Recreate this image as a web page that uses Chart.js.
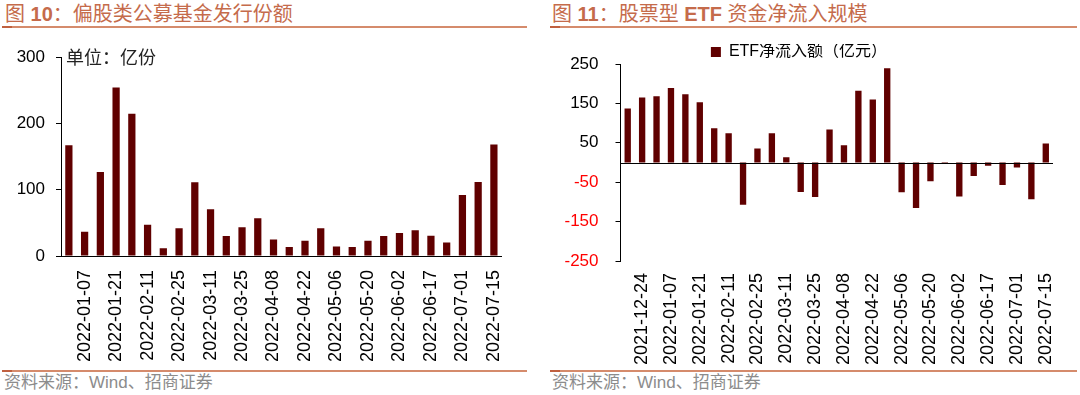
<!DOCTYPE html>
<html>
<head>
<meta charset="utf-8">
<script src="https://cdn.jsdelivr.net/npm/chart.js@4.4.1/dist/chart.umd.min.js"></script>
<style>
  html, body { margin:0; padding:0; background:#fff; }
  body { width:1080px; height:395px; position:relative; overflow:hidden;
         font-family:'Liberation Sans', Arial, 'Noto Sans CJK SC', sans-serif; }
  .title { position:absolute; top:3px; font-size:20px; line-height:22px; color:#C56B4B; white-space:nowrap;
           font-family:'Liberation Sans', Arial, 'Noto Sans CJK SC', sans-serif; }
  .title b { font-weight:bold; }
  .rule { position:absolute; height:2px; background:#D58B6C; }
  .rule i { position:absolute; left:0; top:0; width:10px; height:2px; background:#C0603F; }
  .src { position:absolute; top:373px; font-size:17px; line-height:20px; color:#8c8c8c; white-space:nowrap;
         font-family:'Liberation Sans', Arial, 'Noto Sans CJK SC', sans-serif; }
  .unit { position:absolute; left:66px; top:45px; font-size:18px; line-height:22px; color:#222;
          font-family:'Noto Sans CJK SC', sans-serif; white-space:nowrap; }
  .cv { position:absolute; top:30px; height:340px; }
</style>
</head>
<body>
<div class="title" style="left:5px;">图 <b>10</b>：偏股类公募基金发行份额</div>
<div class="title" style="left:552px;">图 <b>11</b>：股票型 <b>ETF</b> 资金净流入规模</div>
<div class="rule" style="left:2px;top:26px;width:525px;"><i></i></div>
<div class="rule" style="left:550px;top:26px;width:527px;"><i></i></div>
<div class="rule" style="left:2px;top:370px;width:525px;"><i></i></div>
<div class="rule" style="left:550px;top:370px;width:527px;"><i></i></div>
<div class="src" style="left:4px;">资料来源：Wind、招商证券</div>
<div class="src" style="left:552px;">资料来源：Wind、招商证券</div>

<div class="cv" style="left:0;width:530px;"><canvas id="c1"></canvas></div>
<div class="cv" style="left:545px;width:535px;"><canvas id="c2"></canvas></div>
<div class="unit">单位：亿份</div>

<script>
// ---- Data: left chart (偏股类公募基金发行份额, 亿份) ----
const fundLabels = ['2021-12-31','2022-01-07','2022-01-14','2022-01-21','2022-01-28','2022-02-11','2022-02-18',
  '2022-02-25','2022-03-04','2022-03-11','2022-03-18','2022-03-25','2022-04-01','2022-04-08','2022-04-15',
  '2022-04-22','2022-04-29','2022-05-06','2022-05-13','2022-05-20','2022-05-27','2022-06-02','2022-06-10',
  '2022-06-17','2022-06-24','2022-07-01','2022-07-08','2022-07-15'];
const fundValues = [167,36.5,126.5,254,214.5,47,11.5,42,111,70.5,30,43.5,57,25,13.5,23,42,14.5,13.5,23,30,34.5,39,30.5,20.5,92,111.5,168];
const fundTicks = [0,100,200,300];

// ---- Data: right chart (ETF净流入额, 亿元) ----
const etfLabels = ['2021-12-17','2021-12-24','2021-12-31','2022-01-07','2022-01-14','2022-01-21','2022-01-28',
  '2022-02-11','2022-02-18','2022-02-25','2022-03-04','2022-03-11','2022-03-18','2022-03-25','2022-04-01',
  '2022-04-08','2022-04-15','2022-04-22','2022-04-29','2022-05-06','2022-05-13','2022-05-20','2022-05-27',
  '2022-06-02','2022-06-10','2022-06-17','2022-06-24','2022-07-01','2022-07-08','2022-07-15'];
const etfValues = [137,165,168,189,173,153,87,74.5,-107,35.5,74.5,13.5,-75,-87.5,84,44,182,160,239,
  -75.5,-115.5,-47.5,-2.5,-86,-34,-8.5,-57,-12.7,-93.5,48.5];
const etfTicks = [-250,-150,-50,50,150,250];
const etfSeriesName = 'ETF净流入额（亿元）';

const BAR = '#600000';
const FONT = "'Liberation Sans', Arial, 'Noto Sans CJK SC', sans-serif";
Chart.defaults.font.family = FONT;
Chart.defaults.color = '#000';
Chart.defaults.animation = false;

function everyOther(v, i) { return i % 2 === 1 ? this.getLabelForValue(v) : ''; }

new Chart(document.getElementById('c1'), {
  type: 'bar',
  data: { labels: fundLabels, datasets: [{ data: fundValues, backgroundColor: BAR, borderWidth: 0,
          barPercentage: 0.46, categoryPercentage: 1 }] },
  options: {
    responsive: true, maintainAspectRatio: false,
    layout: { padding: { top: 27, right: 28, left: 0, bottom: 0 } },
    plugins: { legend: { display: false }, tooltip: { enabled: false } },
    scales: {
      x: {
        grid: { display: false, drawTicks: false },
        border: { display: true, color: '#000', width: 1 },
        ticks: { autoSkip: false, minRotation: 90, maxRotation: 90, padding: 14,
                 font: { size: 18 }, color: '#000', callback: everyOther },
        afterFit: s => { s.height = 114; }
      },
      y: {
        min: fundTicks[0], max: fundTicks[fundTicks.length - 1],
        afterBuildTicks: s => { s.ticks = fundTicks.map(v => ({ value: v })); },
        grid: { drawOnChartArea: false, drawTicks: true, tickLength: 5, color: '#000' },
        border: { display: true, color: '#000', width: 1 },
        ticks: { padding: 11, font: { size: 17 }, color: '#000' },
        afterFit: s => { s.width = 61; }
      }
    }
  }
});

const zeroLine = {
  id: 'zeroLine',
  afterDatasetsDraw(chart) {
    const { ctx, chartArea, scales: { y } } = chart;
    const py = Math.round(y.getPixelForValue(0)) + 0.5;
    ctx.save();
    ctx.strokeStyle = '#000'; ctx.lineWidth = 1;
    ctx.beginPath(); ctx.moveTo(chartArea.left, py); ctx.lineTo(chartArea.right, py); ctx.stroke();
    ctx.restore();
  }
};
// nudge the legend a few pixels down, closer to the plot (as in the reference)
const legendNudge = {
  id: 'legendNudge',
  afterLayout(chart) {
    if (chart.legend) { chart.legend.top += 6; chart.legend.bottom += 6; }
  }
};

new Chart(document.getElementById('c2'), {
  type: 'bar',
  data: { labels: etfLabels, datasets: [{ label: etfSeriesName, data: etfValues, backgroundColor: BAR, borderWidth: 0,
          barPercentage: 0.44, categoryPercentage: 1 }] },
  options: {
    responsive: true, maintainAspectRatio: false,
    layout: { padding: { top: 8, right: 27, left: 0, bottom: 0 } },
    plugins: {
      legend: { display: true, position: 'top',
        labels: { boxWidth: 10, boxHeight: 10, padding: 0, color: '#000', font: { size: 16 } } },
      tooltip: { enabled: false }
    },
    scales: {
      x: {
        grid: { display: false, drawTicks: false },
        border: { display: false },
        ticks: { autoSkip: false, minRotation: 90, maxRotation: 90, padding: 12,
                 font: { size: 18 }, color: '#000', callback: everyOther },
        afterFit: s => { s.height = 109; }
      },
      y: {
        min: etfTicks[0], max: etfTicks[etfTicks.length - 1],
        afterBuildTicks: s => { s.ticks = etfTicks.map(v => ({ value: v })); },
        grid: { drawOnChartArea: false, drawTicks: true, tickLength: 5, color: '#000' },
        border: { display: true, color: '#000', width: 1 },
        ticks: { padding: 17, font: { size: 17 },
                 color: c => (c.tick && c.tick.value < 0) ? '#FF0000' : '#000' },
        afterFit: s => { s.width = 75.5; }
      }
    }
  },
  plugins: [zeroLine, legendNudge]
});
</script>
</body>
</html>
